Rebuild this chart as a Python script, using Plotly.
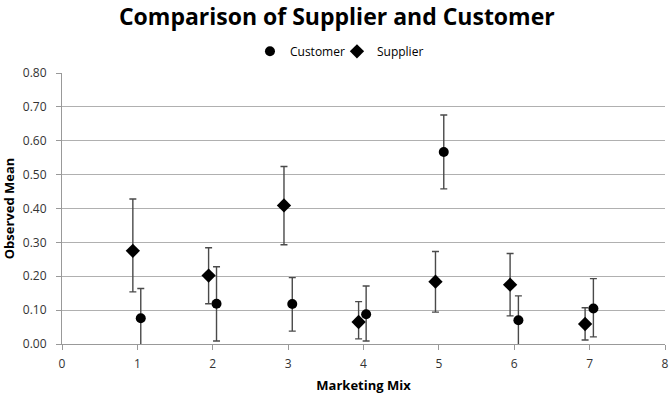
import plotly.graph_objects as go

mix = [1, 2, 3, 4, 5, 6, 7]
cust_x = [1.045, 2.05, 3.055, 4.035, 5.065, 6.055, 7.05]
cust_y = [0.076, 0.119, 0.118, 0.088, 0.567, 0.070, 0.105]
cust_up = [0.088, 0.109, 0.078, 0.083, 0.109, 0.072, 0.088]
cust_down = [0.088, 0.110, 0.080, 0.079, 0.109, 0.072, 0.084]

sup_x = [0.94, 1.945, 2.945, 3.935, 4.955, 5.945, 6.94]
sup_y = [0.275, 0.202, 0.409, 0.065, 0.184, 0.175, 0.059]
sup_up = [0.153, 0.082, 0.115, 0.060, 0.089, 0.092, 0.048]
sup_down = [0.121, 0.083, 0.116, 0.050, 0.090, 0.092, 0.047]

x_ticks = [0, 1, 2, 3, 4, 5, 6, 7, 8]
y_ticks = [0, 0.1, 0.2, 0.3, 0.4, 0.5, 0.6, 0.7, 0.8]

font = "Open Sans"
err_color = "#4a4a4a"

fig = go.Figure()
fig.add_trace(go.Scatter(
    x=cust_x, y=cust_y, mode="markers", name="Customer",
    marker=dict(symbol="circle", size=10, color="black"),
    error_y=dict(type="data", symmetric=False, array=cust_up, arrayminus=cust_down,
                 visible=True, color=err_color, thickness=1.4, width=3.5),
))
fig.add_trace(go.Scatter(
    x=sup_x, y=sup_y, mode="markers", name="Supplier",
    marker=dict(symbol="diamond", size=11, color="black"),
    error_y=dict(type="data", symmetric=False, array=sup_up, arrayminus=sup_down,
                 visible=True, color=err_color, thickness=1.4, width=3.5),
))

fig.update_layout(
    width=671, height=394,
    paper_bgcolor="white", plot_bgcolor="white",
    margin=dict(l=62, r=6, t=73, b=50),
    title=dict(text="<b>Comparison of Supplier and Customer</b>", x=0.502, xanchor="center",
               y=0.958, yanchor="middle", font=dict(family=font, size=23, color="black")),
    legend=dict(orientation="h", x=0.456, xanchor="center", y=1.08, yanchor="middle",
                font=dict(family=font, size=12, color="black"), itemwidth=30,
                entrywidth=42, entrywidthmode="pixels"),
    font=dict(family=font, color="#333333"),
    showlegend=True,
)
fig.update_xaxes(
    range=[0, 8], tickvals=x_ticks, ticktext=[str(v) for v in x_ticks],
    showgrid=False, zeroline=False, showline=True, linecolor="#999999", linewidth=1,
    ticks="outside", ticklen=5, tickcolor="#999999", automargin=False,
    ticklabeloverflow="allow", ticklabelstandoff=4,
    tickfont=dict(family=font, size=12, color="#333333"),
    title=dict(text="<b>Marketing Mix</b>", font=dict(family=font, size=13, color="black"), standoff=10),
)
fig.update_yaxes(
    range=[0, 0.8], tickvals=y_ticks, ticktext=["%.2f" % v for v in y_ticks],
    showgrid=True, gridcolor="#b0b0b0", gridwidth=1, zeroline=False,
    showline=True, linecolor="#999999", linewidth=1, automargin=False,
    ticks="outside", ticklen=5, tickcolor="#999999", ticklabelstandoff=7,
    tickfont=dict(family=font, size=12, color="#333333"),
    title=dict(text="<b>Observed Mean</b>", font=dict(family=font, size=13, color="black"), standoff=8),
)

fig.write_html("out.html", config={"displayModeBar": False},
               post_script="document.body.style.margin='0';")
